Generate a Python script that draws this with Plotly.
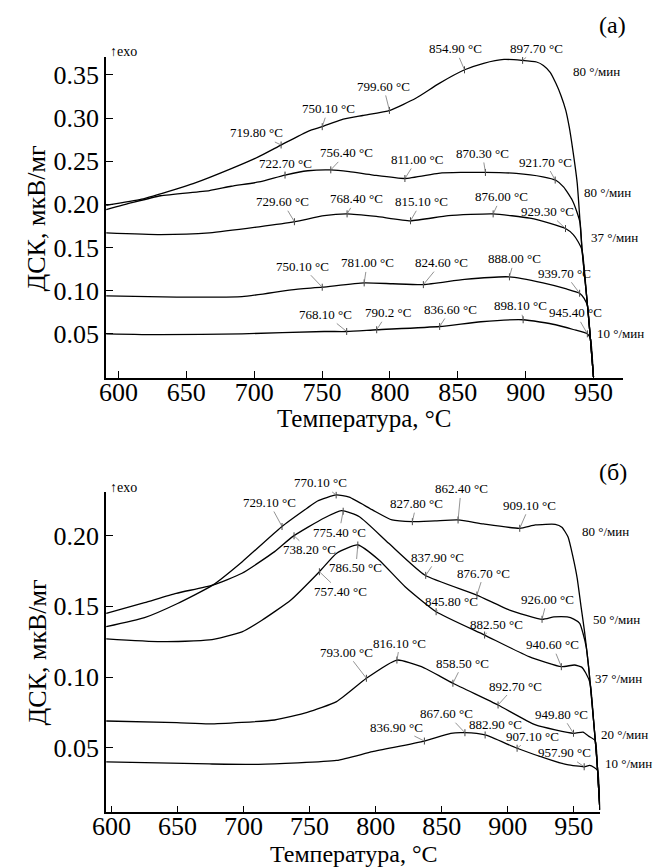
import numpy as np
import plotly.graph_objects as go

# ---------------- panel (а): DSC curves ----------------
a1_x = [591, 617, 643, 655, 684, 703, 720, 740, 750, 764, 780, 800, 819, 836, 855, 869, 884, 897, 908, 913, 918, 922.3, 926, 929.5, 932, 934.5, 937.9, 941.5, 945.1, 947.5, 949.9]
a1_y = [0.199, 0.206, 0.218, 0.224, 0.242, 0.255, 0.269, 0.285, 0.290, 0.298, 0.303, 0.309, 0.323, 0.340, 0.356, 0.3635, 0.368, 0.367, 0.365, 0.361, 0.353, 0.340, 0.326, 0.309, 0.290, 0.265, 0.225, 0.147, 0.0895, 0.047, 0.0]

a2_x = [591, 610, 631, 667, 683, 703.5, 722.7, 739.5, 756.4, 770, 787.6, 811, 835.7, 852, 870.3, 893, 912.6, 922.2, 928, 934.2, 937.5, 940.1, 941.5, 945.1, 947.5, 949.9]
a2_y = [0.194, 0.202, 0.210, 0.216, 0.221, 0.226, 0.234, 0.239, 0.240, 0.238, 0.234, 0.230, 0.236, 0.237, 0.237, 0.236, 0.232, 0.228, 0.220, 0.205, 0.192, 0.178, 0.147, 0.0895, 0.047, 0.0]

a3_x = [591, 631, 667, 703.5, 730, 751.5, 768.4, 790, 815.1, 843, 876, 903, 918, 929.3, 935, 938.5, 941.5, 945.1, 947.5, 949.9]
a3_y = [0.167, 0.165, 0.167, 0.174, 0.180, 0.187, 0.189, 0.186, 0.181, 0.187, 0.189, 0.184, 0.178, 0.172, 0.165, 0.157, 0.147, 0.0895, 0.047, 0.0]

a4_x = [591, 643, 691, 727.4, 750.1, 781, 802, 824.6, 855, 888, 912.7, 930, 939.7, 943, 945.5, 947.5, 949.9]
a4_y = [0.094, 0.0926, 0.093, 0.101, 0.104, 0.109, 0.108, 0.107, 0.113, 0.116, 0.109, 0.102, 0.097, 0.091, 0.082, 0.047, 0.0]

a5_x = [591, 631, 691, 751.5, 768.1, 790.2, 836.6, 867, 898.1, 922, 935, 945.4, 947.7, 949.9]
a5_y = [0.050, 0.049, 0.050, 0.0527, 0.0527, 0.0547, 0.0585, 0.064, 0.0663, 0.0605, 0.055, 0.050, 0.044, 0.0]

a1_labels = ["719.80", "750.10", "799.60", "854.90", "897.70"]
a2_labels = ["722.70", "756.40", "811.00", "870.30", "921.70"]
a3_labels = ["729.60", "768.40", "815.10", "876.00", "929.30"]
a4_labels = ["750.10", "781.00", "824.60", "888.00", "939.70"]
a5_labels = ["768.10", "790.2", "836.60", "898.10", "945.40"]

a_rates = ["80 °/мин", "80 °/мин", "37 °/мин", "10 °/мин"]
a_rate_x = [933.6, 941.5, 946.3, 950.9]
a_rate_y = [0.3538, 0.2136, 0.162, 0.0507]

# ---------------- panel (б): DSC curves ----------------
b1_x = [596, 625, 650, 676.6, 699, 728.4, 748, 756, 770.1, 780, 797.6, 812.4, 827.8, 845, 862.4, 881.6, 909.1, 921, 936, 941, 945.7, 949.4, 952.6, 955.5, 958.2, 961.5, 965.4, 967.8, 969.8]
b1_y = [0.1356, 0.1420, 0.1520, 0.165, 0.1816, 0.206, 0.2194, 0.2245, 0.2288, 0.2272, 0.2182, 0.2111, 0.2099, 0.2105, 0.2111, 0.2083, 0.2052, 0.2076, 0.208, 0.206, 0.199, 0.185, 0.170, 0.150, 0.132, 0.105, 0.065, 0.038, 0.006]

b2_x = [596, 625, 649, 676.6, 698.8, 723.5, 737.1, 760.6, 774.1, 787.7, 809.9, 837.1, 876.6, 901.4, 926.1, 935, 945, 950, 954.5, 957, 959.5, 961.5, 965.4, 967.8, 969.8]
b2_y = [0.145, 0.1526, 0.1592, 0.165, 0.1734, 0.1887, 0.1993, 0.2123, 0.2177, 0.2134, 0.1946, 0.1722, 0.158, 0.1474, 0.1408, 0.1425, 0.1425, 0.141, 0.138, 0.131, 0.121, 0.105, 0.065, 0.038, 0.006]

b3_x = [596, 637, 674, 698.8, 713.6, 735.8, 757.4, 770.5, 786.5, 802.5, 822.3, 845.8, 882.5, 916.2, 940.6, 950.5, 956, 959, 962.4, 965.4, 967.8, 969.8]
b3_y = [0.127, 0.125, 0.1262, 0.132, 0.140, 0.1545, 0.1745, 0.1876, 0.1934, 0.1828, 0.1639, 0.1462, 0.1297, 0.1144, 0.1073, 0.1085, 0.107, 0.103, 0.0956, 0.065, 0.038, 0.006]

b4_x = [596, 649.4, 674.1, 723.5, 748.2, 770.4, 793, 816.1, 834.7, 858.5, 892.7, 921.1, 949.8, 957, 961.5, 966.3, 967.8, 969.8]
b4_y = [0.0689, 0.0677, 0.0668, 0.0696, 0.075, 0.0826, 0.0991, 0.112, 0.1073, 0.0956, 0.0802, 0.0661, 0.0602, 0.061, 0.058, 0.055, 0.038, 0.006]

b5_x = [596, 674.1, 711.2, 770.4, 797.6, 836.9, 856.9, 867.6, 882.9, 907.1, 933.5, 945, 957.9, 962, 965.5, 968, 969.8]
b5_y = [0.040, 0.0385, 0.0382, 0.041, 0.0472, 0.0547, 0.0602, 0.0606, 0.059, 0.0496, 0.041, 0.038, 0.0365, 0.0375, 0.036, 0.034, 0.006]

b1_labels = ["729.10", "770.10", "827.80", "862.40", "909.10"]
b2_labels = ["738.20", "775.40", "837.90", "876.70", "926.00"]
b3_labels = ["757.40", "786.50", "845.80", "882.50", "940.60"]
b4_labels = ["793.00", "816.10", "858.50", "892.70", "949.80"]
b5_labels = ["836.90", "867.60", "882.90", "907.10", "957.90"]

b_rates = ["80 °/мин", "50 °/мин", "37 °/мин", "20 °/мин", "10 °/мин"]
b_rate_x = [954.5, 963.1, 964.3, 969.2, 969.9]
b_rate_y = [0.2028, 0.1404, 0.0991, 0.059, 0.0385]
b_rate_shift = [0, 0, 0, 0, 2.5]

x_ticks = [600, 650, 700, 750, 800, 850, 900, 950]
a_y_ticks = [0.05, 0.10, 0.15, 0.20, 0.25, 0.30, 0.35]
b_y_ticks = [0.05, 0.10, 0.15, 0.20]

# label text offsets (pixels) relative to the marked point on each curve
a_offsets = [
    [(-25, -12), (6, -18), (-6, -24), (-9, -21), (14, -12)],
    [(0, -12), (16, -17), (12, -19), (-3, -19), (-10, -18)],
    [(-12, -20), (9, -15), (11, -19), (8, -17), (-18, -17)],
    [(-20, -21), (3, -20), (18, -22), (5, -18), (-15, -20)],
    [(-21, -17), (11, -17), (11, -17), (-3, -14), (-12, -21)],
]
b_offsets = [
    [(-13, -24), (-16, -12), (4, -18), (3, -31), (10, -23)],
    [(15, 14), (-4, 21), (12, -18), (7, -22), (5, -20)],
    [(21, 20), (-2, 23), (15, -10), (12, -11), (-9, -22)],
    [(-20, -26), (3, -17), (10, -20), (17, -19), (-12, -19)],
    [(-28, -14), (-18, -19), (10, -10), (15, -12), (-20, -14)],
]

SERIF = "Liberation Serif, Times New Roman, DejaVu Serif, serif"
W, H = 653, 867

fig = go.Figure()
annotations = []


def add_panel(curves, labels, offsets, xref, yref):
    for (xs, ys), labs, offs in zip(curves, labels, offsets):
        fig.add_trace(go.Scatter(
            x=xs, y=ys, mode="lines", xaxis=xref, yaxis=yref,
            line=dict(color="black", width=1.3, shape="spline", smoothing=0.5),
            hoverinfo="skip", showlegend=False))
        tx = [float(s) for s in labs]
        ty = list(np.interp(tx, xs, ys))
        fig.add_trace(go.Scatter(
            x=tx, y=ty, mode="markers", xaxis=xref, yaxis=yref,
            marker=dict(symbol="line-ns", size=5, line=dict(color="#444", width=1)),
            hoverinfo="skip", showlegend=False))
        for s, x0, y0, (dx, dy) in zip(labs, tx, ty, offs):
            annotations.append(dict(
                x=x0, y=y0, xref=xref, yref=yref, text=f"{s} °C",
                showarrow=True, arrowhead=0, arrowwidth=0.8, arrowcolor="#777",
                ax=dx, ay=dy, standoff=0,
                font=dict(family=SERIF, size=13, color="black")))


add_panel([(a1_x, a1_y), (a2_x, a2_y), (a3_x, a3_y), (a4_x, a4_y), (a5_x, a5_y)],
          [a1_labels, a2_labels, a3_labels, a4_labels, a5_labels], a_offsets, "x", "y")
add_panel([(b1_x, b1_y), (b2_x, b2_y), (b3_x, b3_y), (b4_x, b4_y), (b5_x, b5_y)],
          [b1_labels, b2_labels, b3_labels, b4_labels, b5_labels], b_offsets, "x2", "y2")

for t, x0, y0 in zip(a_rates, a_rate_x, a_rate_y):
    annotations.append(dict(x=x0, y=y0, xref="x", yref="y", text=t, showarrow=False,
                            xanchor="left", yanchor="middle",
                            font=dict(family=SERIF, size=13, color="black")))
for t, x0, y0, sh in zip(b_rates, b_rate_x, b_rate_y, b_rate_shift):
    annotations.append(dict(x=x0, y=y0, xref="x2", yref="y2", text=t, showarrow=False,
                            xanchor="left", yanchor="middle", xshift=sh,
                            font=dict(family=SERIF, size=13, color="black")))


def paper(px, py, text, size, angle=0, xanchor="center"):
    annotations.append(dict(x=px / W, y=1 - py / H, xref="paper", yref="paper",
                            text=text, showarrow=False, textangle=angle,
                            xanchor=xanchor, yanchor="middle",
                            font=dict(family=SERIF, size=size, color="black")))


# panel captions, axis titles and exo markers
paper(612, 25, "(а)", 24)
paper(612, 472, "(б)", 24)
paper(358, 418, "Температура, °C", 25)
paper(347, 854, "Температура, °C", 24)
paper(24, 218, "ДСК, мкВ/мг", 26, angle=-90)
paper(24, 652, "ДСК, мкВ/мг", 26, angle=-90)
paper(96, 51, "↑exo", 14, xanchor="left")
paper(96, 487, "↑exo", 14, xanchor="left")

axis_common = dict(showline=True, linecolor="black", linewidth=1.5, ticks="inside",
                   ticklen=7, tickwidth=1.3, tickcolor="black", showgrid=False,
                   zeroline=False, mirror=False,
                   tickfont=dict(family=SERIF, size=26, color="black"))

fig.update_layout(
    width=W, height=H, margin=dict(l=0, r=0, t=0, b=0),
    paper_bgcolor="white", plot_bgcolor="white",
    font=dict(family=SERIF),
    xaxis=dict(domain=[94 / W, 622 / W], range=[590.8, 971.4], anchor="y",
               tickvals=x_ticks, ticklabelstandoff=-10, **axis_common),
    yaxis=dict(domain=[489 / H, 810 / H], range=[-0.0012, 0.3708], anchor="x",
               tickvals=a_y_ticks, tickformat=".2f", **axis_common),
    xaxis2=dict(domain=[94 / W, 599 / W], range=[595.8, 970.0], anchor="y2",
                tickvals=x_ticks, ticklabelstandoff=-10, **axis_common),
    yaxis2=dict(domain=[54.7 / H, 375.3 / H], range=[0.0043, 0.2311], anchor="x2",
                tickvals=b_y_ticks, tickformat=".2f", **axis_common),
    annotations=annotations,
)

fig.write_html("out.html")
